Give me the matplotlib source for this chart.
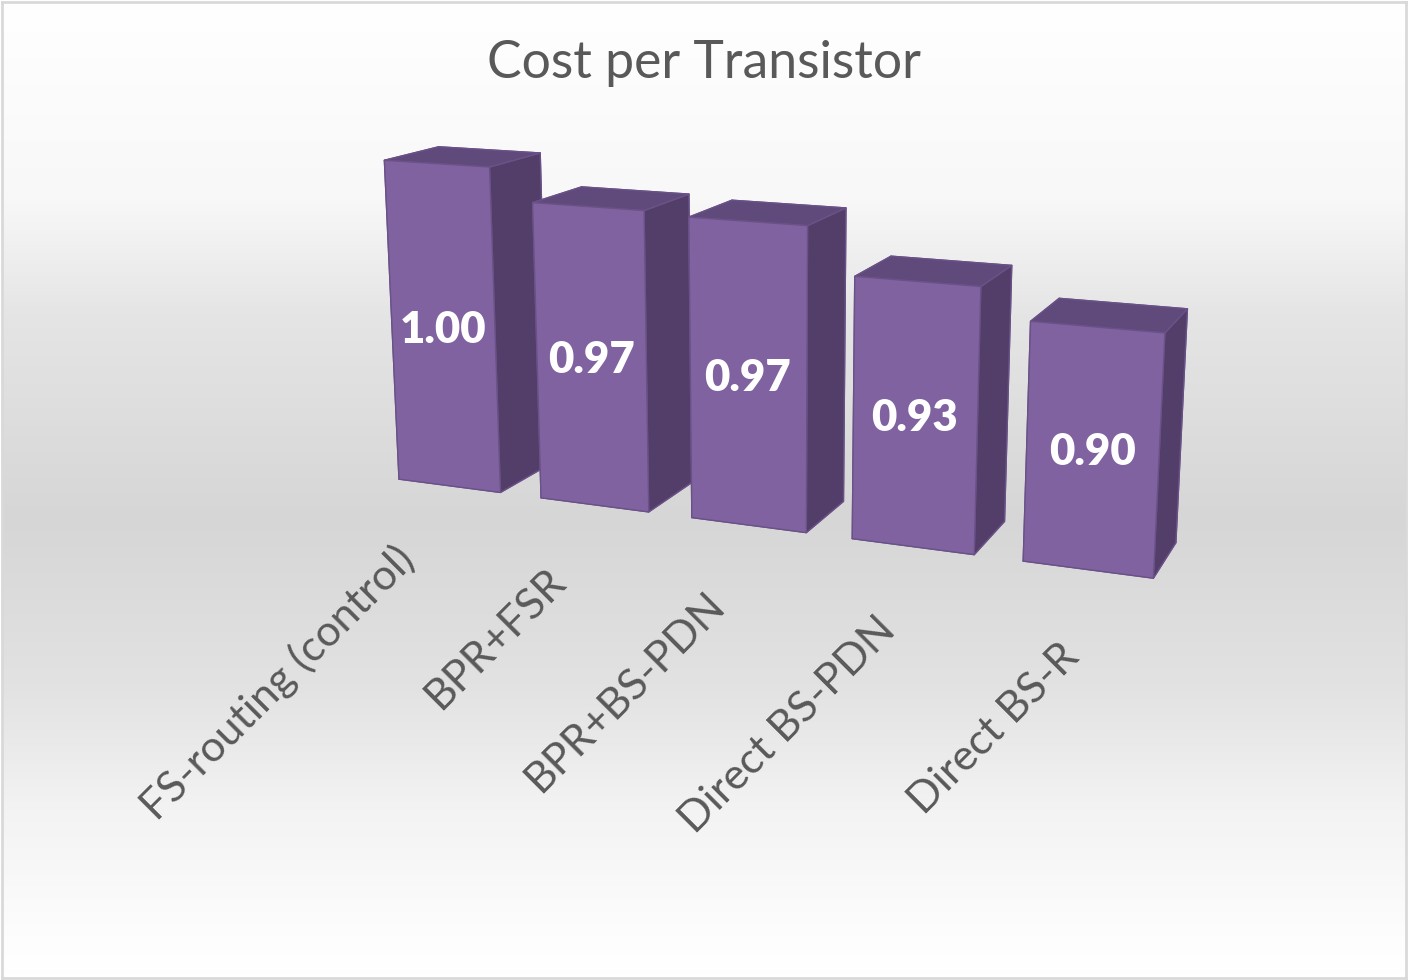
import matplotlib
matplotlib.use("Agg")
import matplotlib.pyplot as plt
import numpy as np
from matplotlib.colors import LinearSegmentedColormap
from mpl_toolkits.mplot3d import proj3d

categories = ["FS-routing (control)", "BPR+FSR", "BPR+BS-PDN", "Direct BS-PDN", "Direct BS-R"]
values = [1.00, 0.97, 0.967, 0.926, 0.90]
axis_min = 0.69

front_color = "#8062A0"
side_color = "#523E69"
top_color = "#604A7B"
edge_color = "#6A5288"
text_color = "#595959"

plt.rcParams['font.family'] = ['Lato', 'DejaVu Sans']

fig = plt.figure(figsize=(14.08, 9.8), dpi=100)

# background gradient
bg = fig.add_axes([2 / 1408, 2 / 980, 1 - 4 / 1408, 1 - 4 / 980])
cmap = LinearSegmentedColormap.from_list("bg", [(0, "#FFFFFF"), (0.2, "#F8F8F8"), (0.32, "#E5E5E5"), (0.53, "#D6D6D6"),
                                                (0.7, "#E2E2E2"), (0.83, "#F3F3F3"), (0.96, "#FDFDFD"), (1, "#FFFFFF")])
bg.imshow(np.linspace(0, 1, 256).reshape(-1, 1), aspect="auto", cmap=cmap, extent=[0, 1, 0, 1])
bg.set_xticks([])
bg.set_yticks([])
for s in bg.spines.values():
    s.set_color("#D9D9D9")
    s.set_linewidth(2)

# 3d bars
ax = fig.add_axes([0.0405, 0.137, 1.0, 1.0], projection="3d")
ax.patch.set_alpha(0)
ax.set_axis_off()
ax.computed_zorder = False
ax.set_proj_type("persp", focal_length=0.38)
ax.view_init(elev=13.6, azim=-68, roll=0)
ax.set_box_aspect((5, 1, 2.0), zoom=0.925)
ax.set_xlim(-0.5, 4.5)
ax.set_ylim(0, 1)
ax.set_zlim(axis_min, 1.0)

bar_w = 0.72
bar_d = 0.62
bar_y = 0.1
M = ax.get_proj()
for i, v in enumerate(values):
    faces = [side_color, top_color, front_color, side_color, side_color, side_color]
    ax.bar3d(i - bar_w / 2, bar_y, axis_min, bar_w, bar_d, v - axis_min, color=faces, shade=False,
             edgecolor=edge_color, linewidth=1, zorder=i + 1, clip_on=False)
    # value label in the middle of the front face
    xp, yp, _ = proj3d.proj_transform(i, bar_y, (v + axis_min) / 2 - 0.002, M)
    ax.text2D(xp, yp, f"{v:.2f}", transform=ax.transData, color="white", fontsize=31.5, fontweight="heavy",
              ha="center", va="center", zorder=20)
    # category label
    xp, yp, _ = proj3d.proj_transform(i + 0.07, bar_y - 0.6, axis_min - 0.036, M)
    ax.text2D(xp, yp, categories[i], transform=ax.transData, color=text_color, fontsize=31, rotation=45,
              rotation_mode="anchor", ha="right", va="center", zorder=20)

fig.text(0.5, 0.935, "Cost per Transistor", color=text_color, fontsize=37.3, ha="center", va="center")

fig.savefig("out.png", dpi=100)
